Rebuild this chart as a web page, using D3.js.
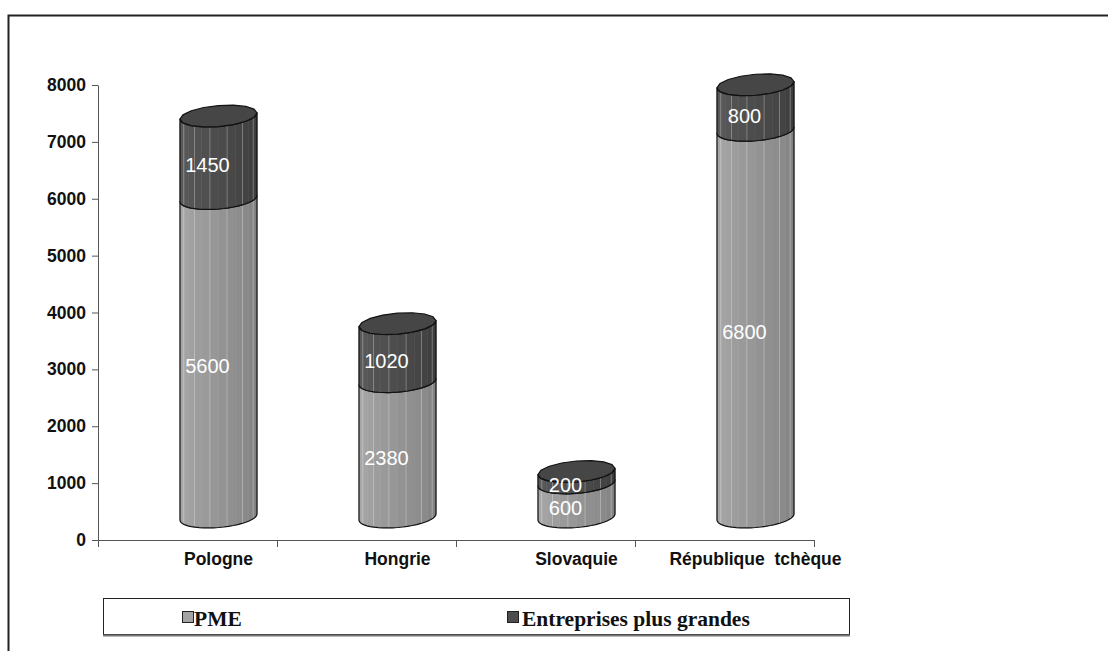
<!DOCTYPE html>
<html lang="fr">
<head>
<meta charset="UTF-8">
<title>PME et entreprises plus grandes</title>
<style>
  body { margin: 0; background: #fff; }
  svg { display: block; }
</style>
</head>
<body>
<script src="https://cdnjs.cloudflare.com/ajax/libs/d3/7.8.5/d3.min.js"></script>
<script>
// data
const categories = ['Pologne', 'Hongrie', 'Slovaquie', 'République  tchèque'];
const pme = [5600, 2380, 600, 6800];
const grandes = [1450, 1020, 200, 800];
const yTicks = [0, 1000, 2000, 3000, 4000, 5000, 6000, 7000, 8000];
const seriesNames = ['PME', 'Entreprises plus grandes'];

const W = 1108, H = 651;
const svg = d3.select('body').append('svg').attr('width', W).attr('height', H);

// outer chart frame (runs off the right and bottom)
svg.append('rect')
  .attr('x', 8.5).attr('y', 15.5)
  .attr('width', 1200).attr('height', 800)
  .attr('fill', 'none').attr('stroke', '#222').attr('stroke-width', 2);

const x = d3.scaleBand().domain(categories).range([98, 814]).padding(0);
const y = d3.scaleLinear().domain([0, 8000]).range([540, 85]);

const sansFont = '"Liberation Sans", Arial, sans-serif';

// y axis
const yAxis = d3.axisLeft(y).tickValues(yTicks).tickFormat(d3.format('d'))
  .tickSize(6).tickSizeOuter(0).tickPadding(6);
const gy = svg.append('g').attr('transform', 'translate(98,0)').call(yAxis);
gy.select('.domain').attr('stroke', '#555');
gy.selectAll('.tick line').attr('stroke', '#555');
gy.selectAll('.tick text')
  .attr('fill', '#111')
  .style('font-family', sansFont)
  .style('font-weight', 'bold')
  .style('font-size', '17.5px');

// x axis line + ticks at band edges
svg.append('line')
  .attr('x1', x.range()[0]).attr('x2', x.range()[1])
  .attr('y1', y(0) + 0.5).attr('y2', y(0) + 0.5)
  .attr('stroke', '#555');
const edges = categories.map(c => x(c)).concat([x.range()[1]]);
svg.selectAll('.xtick').data(edges).enter().append('line')
  .attr('class', 'xtick')
  .attr('x1', d => d + 0.5).attr('x2', d => d + 0.5)
  .attr('y1', y(0)).attr('y2', y(0) + 7)
  .attr('stroke', '#555');

// cylinder geometry
const rx = 38.5, ry = 10.5, tilt = 0.08, depth = 23, dx = 31;
const cxOf = c => x(c) + x.bandwidth() / 2 + dx;

function pt(cx, cy, t) {
  return [cx + rx * Math.cos(t), cy + ry * Math.sin(t) - tilt * rx * Math.cos(t)];
}

const nFacets = 14;
const lightPME = d3.interpolateRgb('#acacac', '#7e7e7e');
const darkBig = d3.interpolateRgb('#5e5e5e', '#3a3a3a');

function drawBody(g, cx, vBot, vTop, colorFn) {
  const cyB = y(vBot) - depth, cyT = y(vTop) - depth;
  // facets from left (t = PI) to right (t = 0)
  for (let i = 0; i < nFacets; i++) {
    const t0 = Math.PI - i * Math.PI / nFacets;
    const t1 = Math.PI - (i + 1) * Math.PI / nFacets;
    const a = pt(cx, cyT, t0), b = pt(cx, cyT, t1), c2 = pt(cx, cyB, t1), d = pt(cx, cyB, t0);
    const mid = (i + 0.5) / nFacets;
    g.append('path')
      .attr('d', 'M' + [a, b, c2, d].map(p => p.join(',')).join('L') + 'Z')
      .attr('fill', colorFn(mid))
      .attr('stroke', colorFn(mid)).attr('stroke-width', 0.6);
    if (i > 0 && i % 2 === 0) {
      g.append('line')
        .attr('x1', a[0]).attr('y1', a[1]).attr('x2', d[0]).attr('y2', d[1])
        .attr('stroke', '#fff').attr('stroke-opacity', 0.35).attr('stroke-width', 0.8);
    }
  }
  // outline of the side
  const steps = d3.range(0, 25).map(i => i * Math.PI / 24);
  const topFront = steps.map(t => pt(cx, cyT, t));
  const botFront = steps.slice().reverse().map(t => pt(cx, cyB, t));
  const outline = [pt(cx, cyT, 0)].concat(topFront, botFront);
  g.append('path')
    .attr('d', 'M' + outline.map(p => p.join(',')).join('L') + 'Z')
    .attr('fill', 'none').attr('stroke', '#111').attr('stroke-width', 1.2)
    .attr('stroke-linejoin', 'round');
}

function drawCap(g, cx, v, fill) {
  const cy = y(v) - depth;
  const ptsCap = d3.range(0, 16).map(i => pt(cx, cy, i * 2 * Math.PI / 16));
  g.append('path')
    .attr('d', 'M' + ptsCap.map(p => p.join(',')).join('L') + 'Z')
    .attr('fill', fill).attr('stroke', '#111').attr('stroke-width', 1.2)
    .attr('stroke-linejoin', 'round');
}

categories.forEach((c, i) => {
  const g = svg.append('g');
  const cx = cxOf(c);
  drawBody(g, cx, 0, pme[i], lightPME);
  drawBody(g, cx, pme[i], pme[i] + grandes[i], darkBig);
  drawCap(g, cx, pme[i] + grandes[i], '#464646');

  // value labels
  [[0, pme[i]], [pme[i], pme[i] + grandes[i]]].forEach(([a, b]) => {
    svg.append('text')
      .attr('x', cx - 11)
      .attr('y', y((a + b) / 2) - 15)
      .attr('dy', '0.36em')
      .attr('text-anchor', 'middle')
      .attr('fill', '#fff')
      .style('font-family', sansFont)
      .style('font-size', '20px')
      .text(b - a);
  });

  // category label
  svg.append('text')
    .attr('x', cx)
    .attr('y', 565)
    .attr('text-anchor', 'middle')
    .attr('fill', '#111')
    .style('font-family', sansFont)
    .style('font-weight', 'bold')
    .style('font-size', '17.5px')
    .style('white-space', 'pre')
    .text(c);
});

// legend
const lg = svg.append('g');
lg.append('rect')
  .attr('x', 103.5).attr('y', 598.5).attr('width', 746).attr('height', 36)
  .attr('fill', '#fff').attr('stroke', '#222').attr('stroke-width', 1);
lg.append('line')
  .attr('x1', 103).attr('x2', 850).attr('y1', 635.5).attr('y2', 635.5)
  .attr('stroke', '#777').attr('stroke-width', 2);
const legendItems = [
  { name: seriesNames[0], fill: '#a3a3a3', sx: 182, tx: 194 },
  { name: seriesNames[1], fill: '#4d4d4d', sx: 507, tx: 522 }
];
legendItems.forEach(d => {
  lg.append('rect')
    .attr('x', d.sx + 0.5).attr('y', 611.5).attr('width', 11).attr('height', 11)
    .attr('fill', d.fill).attr('stroke', '#222');
  lg.append('text')
    .attr('x', d.tx).attr('y', 626)
    .attr('fill', '#111')
    .style('font-family', '"Liberation Serif", "Times New Roman", serif')
    .style('font-weight', 'bold')
    .style('font-size', '21.5px')
    .text(d.name);
});
</script>
</body>
</html>
